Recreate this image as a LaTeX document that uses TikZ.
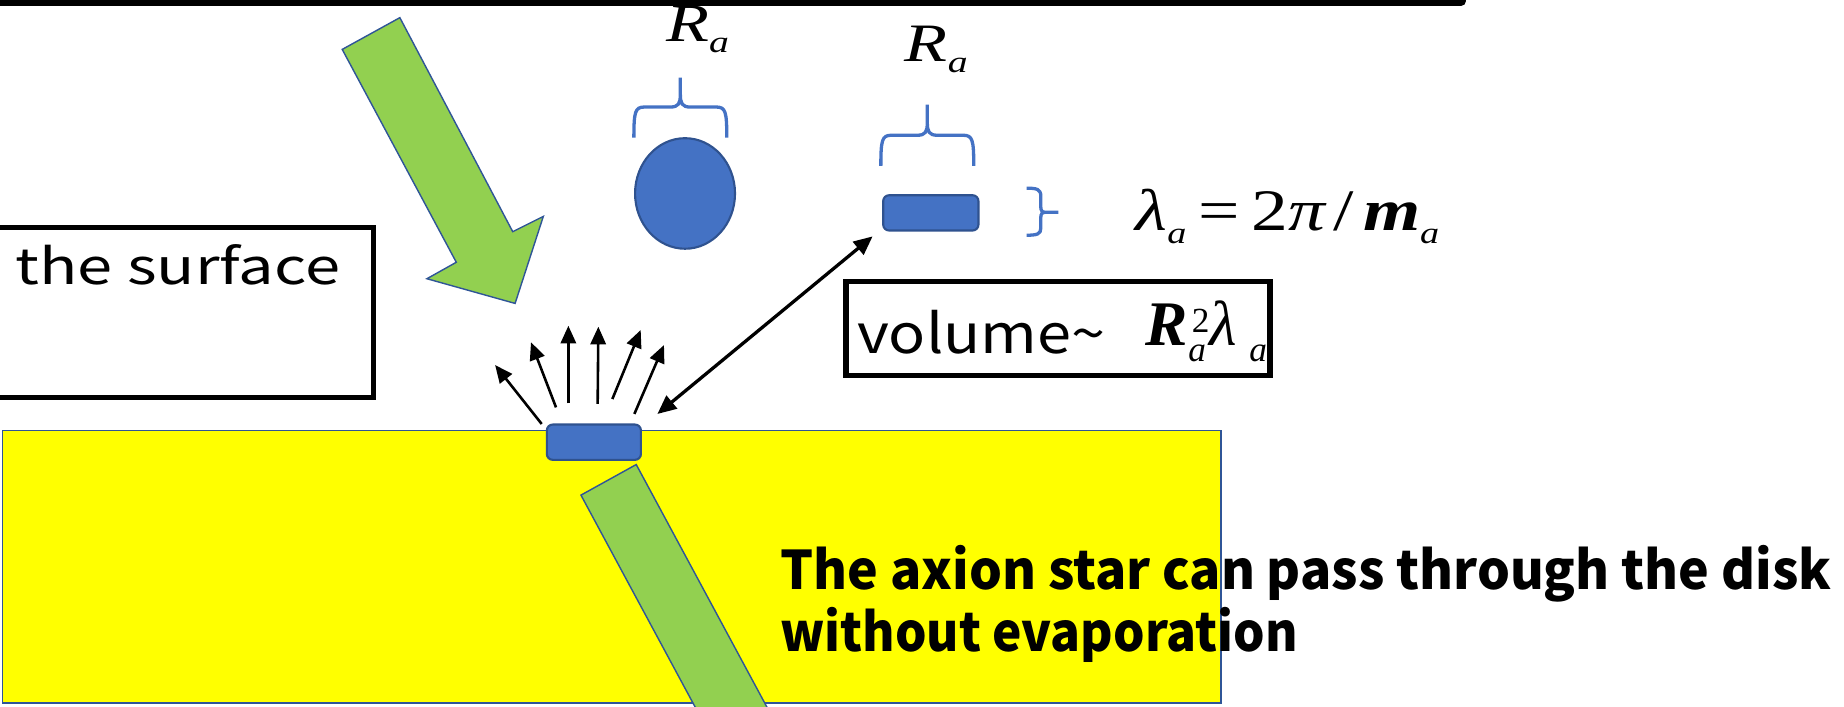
\documentclass[tikz,border=0pt]{standalone}
\usepackage{fontspec}
\setmainfont{Liberation Serif}
\newfontfamily\jpfont{Noto Sans CJK JP}
\usetikzlibrary{arrows.meta,shapes.geometric}
\definecolor{grn}{HTML}{92D050}
\definecolor{bord}{HTML}{2F5597}
\definecolor{bfill}{HTML}{4472C4}
\definecolor{bdark}{HTML}{2F528F}
\definecolor{yel}{HTML}{FFFF00}
\newcommand\subA[2]{\raisebox{-#1}{\fontsize{#2}{#2}\selectfont\itshape a}}
\begin{document}
\begin{tikzpicture}[x=0.5pt,y=-0.5pt,
  greenarrow/.style={fill=grn,draw=bord,line width=0.6pt,line join=miter},
  blob/.style={fill=bfill,draw=bdark,line width=0.9pt},
  brace/.style={draw=bfill,line width=1.4pt},
  frame/.style={draw=black,line width=2.3pt},
  disk/.style={fill=yel,draw=bord,line width=0.7pt},
  emit/.style={-{Triangle[length=7.5pt,width=6.5pt]},line width=1.1pt},
  link/.style={{Triangle[length=8pt,width=7pt]}-{Triangle[length=8pt,width=7pt]},line width=1.4pt},
  txt/.style={inner sep=0pt,anchor=base west}]
\clip (0,0) rectangle (1568,601);
% top line
\draw[line width=2.5pt,rounded corners=1pt] (-10,2.5) -- (1244,2.5) -- (1244,-20);
% surface box
\draw[frame] (-20,193.5) rectangle (317.5,338);
\node[txt] (surf) at (12.8,242.3) {\resizebox{138pt}{17pt}{\jpfont the surface}};
% incoming green arrow
\draw[greenarrow] (291,42) -- (340,15) -- (436,197) -- (462,184) -- (438,258) -- (363,237) -- (388,223) -- cycle;
% spherical star
\node[blob,ellipse,minimum width=42.5pt,minimum height=47pt,inner sep=0pt] (star) at (582.5,164.5) {};
% braces
\draw[brace] (539,117) .. controls (539,95) and (540,91) .. (548,91) -- (570,91) .. controls (577,91) and (578.5,88) .. (578.5,80) -- (578.5,66)
  (578.5,80) .. controls (578.5,88) and (580,91) .. (587,91) -- (609,91) .. controls (617,91) and (618,95) .. (618,117);
\draw[brace] (749,141) .. controls (749,119) and (750,115) .. (758,115) -- (780,115) .. controls (787,115) and (788.5,112) .. (788.5,104) -- (788.5,89)
  (788.5,104) .. controls (788.5,112) and (790,115) .. (797,115) -- (819,115) .. controls (827,115) and (828,119) .. (828,141);
\draw[brace] (873,160) .. controls (882,160) and (885,161) .. (885,167) -- (885,176) .. controls (885,179) and (886,180.5) .. (889,180.5) -- (900,180.5)
  (889,180.5) .. controls (886,180.5) and (885,182) .. (885,185) -- (885,194) .. controls (885,199) and (882,200) .. (873,200);
% R_a labels
\node[txt,xscale=1.3] (ra1) at (566,35) {\fontsize{23}{23}\selectfont\itshape R\subA{5pt}{13}};
\node[txt,xscale=1.3] (ra2) at (769,52) {\fontsize{23}{23}\selectfont\itshape R\subA{5pt}{13}};
% flattened star
\node[blob,rounded corners=2.5pt,minimum width=40.5pt,minimum height=15pt,inner sep=0pt] (ustar) at (791.5,181) {};
% formula
\node[txt,xscale=1.25] (lam) at (965,196) {\fontsize{25}{25}\selectfont\itshape λ\subA{5.5pt}{13}\hspace{4pt}\upshape=\hspace{4pt}2\itshape π\hspace{3pt}\upshape/\hspace{3pt}\bfseries\itshape m\mdseries\subA{5.5pt}{13}};
% volume box
\node[txt] (vol) at (728.5,300.4) {\resizebox{105.5pt}{18.4pt}{\jpfont volume\textasciitilde}};
\node[txt] (vR) at (974,294) {\fontsize{27}{27}\selectfont\bfseries\itshape R};
\node[txt] (vsup) at (1013,283) {\fontsize{15}{15}\selectfont 2};
\node[txt] (vsub1) at (1010,307) {\fontsize{15}{15}\selectfont\itshape a};
\node[txt] (vlam) at (1028,294) {\fontsize{27}{27}\selectfont\itshape λ};
\node[txt] (vsub2) at (1062,307) {\fontsize{15}{15}\selectfont\itshape a};
\draw[frame] (719.5,239.5) rectangle (1080,319.5);
% double arrow
\coordinate (da1) at (559,352);
\coordinate (da2) at (742,201);
\draw[link] (da1) -- (da2);
% emitted arrows
\coordinate (e1t) at (460.6,360.5); \coordinate (e1h) at (421,310.4);
\coordinate (e2t) at (472.8,346.4); \coordinate (e2h) at (451.5,291);
\coordinate (e3t) at (483.3,343);   \coordinate (e3h) at (483.3,277);
\coordinate (e4t) at (508.2,343.5); \coordinate (e4h) at (508.8,277.8);
\coordinate (e5t) at (520.7,339.3); \coordinate (e5h) at (544.8,280.6);
\coordinate (e6t) at (539.4,352);   \coordinate (e6h) at (564.6,293.4);
\foreach \i in {1,...,6} \draw[emit] (e\i t) -- (e\i h);
% disk
\draw[disk] (2,366) rectangle (1038,598);
\node[blob,rounded corners=2.5pt,minimum width=40pt,minimum height=15pt,inner sep=0pt] (bstar) at (505,376) {};
\draw[greenarrow] (494,421) -- (541,395) -- (673,640) -- (612,640) -- cycle;
% caption
\node[txt] (cap1) at (663,501) {\resizebox{447pt}{18.8pt}{\jpfont\bfseries The axion star can pass through the disk}};
\node[txt] (cap2) at (663,554) {\resizebox{220pt}{18.8pt}{\jpfont\bfseries without evaporation}};
\end{tikzpicture}
\end{document}
